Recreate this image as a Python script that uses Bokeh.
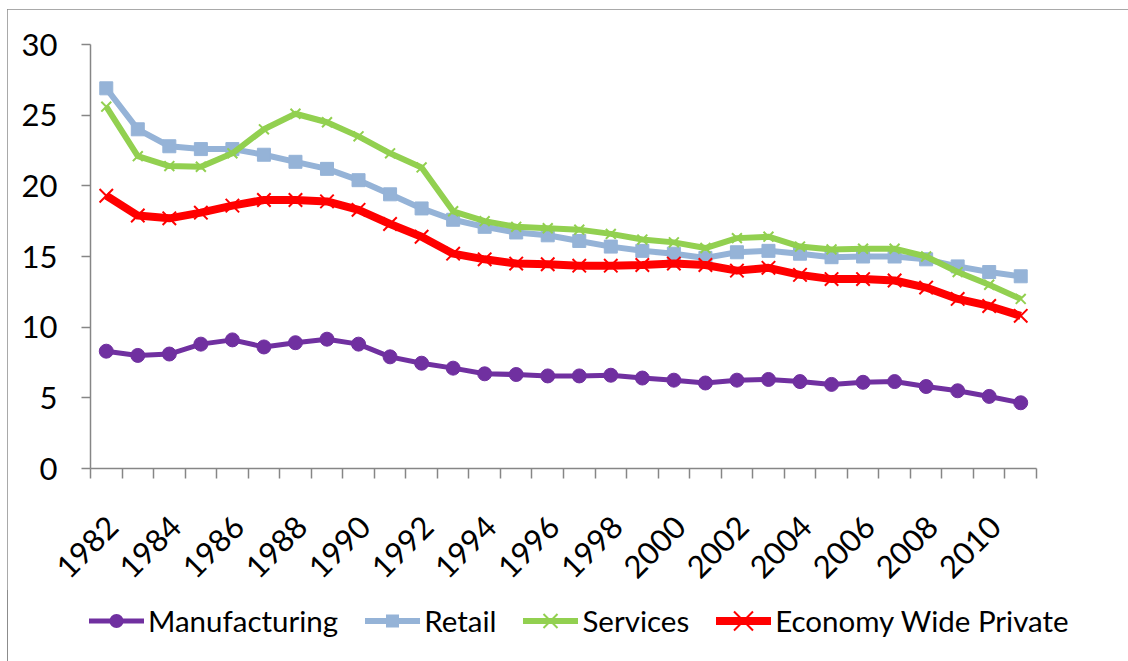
import math
from bokeh.plotting import figure
from bokeh.layouts import column
from bokeh.models import FixedTicker, NumeralTickFormatter, Range1d, Div
from bokeh.embed import file_html
from bokeh.resources import INLINE

years = list(range(1982, 2012))
manufacturing = [8.3, 8.0, 8.1, 8.8, 9.1, 8.6, 8.9, 9.15, 8.8, 7.9, 7.45, 7.1, 6.7, 6.65,
                 6.55, 6.55, 6.6, 6.4, 6.25, 6.05, 6.25, 6.3, 6.15, 5.95, 6.1, 6.15, 5.8, 5.5, 5.1, 4.65]
retail = [26.9, 24.0, 22.8, 22.6, 22.6, 22.2, 21.7, 21.2, 20.4, 19.4, 18.4, 17.6, 17.1, 16.7,
          16.5, 16.1, 15.7, 15.4, 15.2, 14.9, 15.3, 15.4, 15.2, 14.95, 15.0, 15.0, 14.8, 14.3, 13.9, 13.6]
services = [25.6, 22.1, 21.4, 21.35, 22.3, 24.0, 25.1, 24.5, 23.5, 22.3, 21.3, 18.2, 17.5, 17.1,
            17.0, 16.9, 16.6, 16.2, 16.0, 15.6, 16.3, 16.4, 15.7, 15.5, 15.55, 15.55, 15.0, 13.9, 13.0, 12.0]
economy = [19.3, 17.9, 17.7, 18.1, 18.6, 19.0, 19.0, 18.9, 18.3, 17.3, 16.4, 15.2, 14.8, 14.5,
           14.45, 14.35, 14.35, 14.4, 14.5, 14.4, 14.0, 14.2, 13.7, 13.4, 13.4, 13.3, 12.8, 12.0, 11.5, 10.8]
series_names = ["Manufacturing", "Retail", "Services", "Economy Wide Private"]
y_ticks = [0, 5, 10, 15, 20, 25, 30]
x_label_years = list(range(1982, 2011, 2))

FONT = "Lato"
AXIS_GRAY = "#868686"
BORDER = "#8c8c8c"
LABEL_NUDGE = 0.2  # Excel places rotated labels slightly right of the category centre
W = 1121
H_MAIN = 581
H_LEG = 71

p = figure(width=W, height=H_MAIN, output_backend="svg", toolbar_location=None,
           x_range=Range1d(years[0] - 0.5, years[-1] + 0.5), y_range=Range1d(0, 30),
           min_border_left=83, min_border_top=35, min_border_right=92, min_border_bottom=121)
p.outline_line_color = None
p.xgrid.grid_line_color = None
p.ygrid.grid_line_color = None
p.background_fill_color = "white"
p.border_fill_color = "white"

styles = [
    dict(data=manufacturing, color="#7030A0", lw=5, marker="circle", size=14, mlw=1, fill=True),
    dict(data=retail, color="#95B3D7", lw=6, marker="square", size=13, mlw=1, fill=True),
    dict(data=services, color="#92D050", lw=6, marker="x", size=14, mlw=2, fill=False),
    dict(data=economy, color="#FF0000", lw=8, marker="x", size=19, mlw=2, fill=False),
]

for st in styles:
    p.line(years, st["data"], line_color=st["color"], line_width=st["lw"], line_join="round")
    p.scatter(years, st["data"], marker=st["marker"], size=st["size"],
              line_color=st["color"], line_width=st["mlw"],
              fill_color=st["color"] if st["fill"] else None)

# x axis
xa = p.xaxis[0]
xa.ticker = FixedTicker(ticks=[y + LABEL_NUDGE for y in x_label_years],
                        minor_ticks=[y - 0.5 for y in years] + [years[-1] + 0.5])
xa.formatter = NumeralTickFormatter(format="0")
xa.major_label_orientation = math.pi / 4
xa.major_tick_line_color = None
xa.major_tick_out = 0
xa.major_tick_in = 0
xa.minor_tick_out = 10
xa.minor_tick_in = 0
xa.minor_tick_line_color = AXIS_GRAY
xa.minor_tick_line_width = 1.5
xa.axis_line_color = AXIS_GRAY
xa.axis_line_width = 1.5
xa.major_label_standoff = 43
xa.major_label_text_font = FONT
xa.major_label_text_font_size = "31px"
xa.major_label_text_color = "black"

# y axis
ya = p.yaxis[0]
ya.ticker = FixedTicker(ticks=y_ticks)
ya.major_tick_out = 9
ya.major_tick_in = 0
ya.minor_tick_line_color = None
ya.major_tick_line_color = AXIS_GRAY
ya.major_tick_line_width = 1.5
ya.axis_line_color = AXIS_GRAY
ya.axis_line_width = 1.5
ya.major_label_standoff = 24
ya.major_label_text_font = FONT
ya.major_label_text_font_size = "31px"
ya.major_label_text_color = "black"


# legend strip (HTML, so it may extend past the plot frame like Excel's legend)
def marker_svg(st):
    c = st["color"]
    cx, cy = 27.5, 17
    if st["marker"] == "circle":
        r = st["size"] / 2
        return f'<circle cx="{cx}" cy="{cy}" r="{r}" fill="{c}"/>'
    if st["marker"] == "square":
        s = st["size"]
        return f'<rect x="{cx - s / 2}" y="{cy - s / 2}" width="{s}" height="{s}" fill="{c}"/>'
    h = st["size"] / 2
    return (f'<line x1="{cx - h}" y1="{cy - h}" x2="{cx + h}" y2="{cy + h}" stroke="{c}" stroke-width="{st["mlw"]}"/>'
            f'<line x1="{cx - h}" y1="{cy + h}" x2="{cx + h}" y2="{cy - h}" stroke="{c}" stroke-width="{st["mlw"]}"/>')


parts = []
for i, (name, st) in enumerate(zip(series_names, styles)):
    gap = "27px" if i < len(series_names) - 1 else "0"
    parts.append(
        f'<div style="display:flex;align-items:center;margin-right:{gap}">'
        f'<svg width="55" height="34" style="display:block">'
        f'<line x1="0" y1="17" x2="55" y2="17" stroke="{st["color"]}" stroke-width="{st["lw"]}"/>'
        f'{marker_svg(st)}</svg>'
        f'<span style="margin-left:4px;font-family:{FONT};font-size:29.5px;line-height:1;color:black;white-space:nowrap">{name}</span>'
        f'</div>')
legend_html = (f'<div style="display:flex;align-items:center;box-sizing:border-box;'
               f'width:{W}px;height:{H_LEG}px;padding-left:77px;padding-bottom:19px;background:white">'
               + "".join(parts) + '</div>')
leg = Div(text=legend_html, width=W, height=H_LEG)

layout = column(p, leg, spacing=0,
                styles={"margin-left": "7px", "margin-top": "9px",
                        "outline": "1.5px solid " + BORDER, "outline-offset": "-1px"})
open("out.html", "w").write(file_html(layout, INLINE))
